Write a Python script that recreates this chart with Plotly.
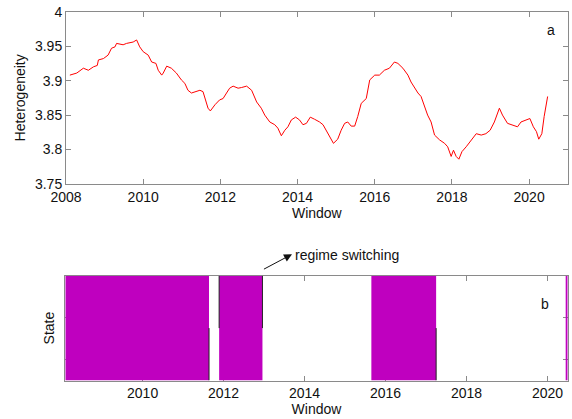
import plotly.graph_objects as go

# Heterogeneity series (decimal year, value)
years = [2008.10, 2008.28, 2008.45, 2008.58, 2008.71, 2008.81, 2008.84, 2008.97, 2009.09, 2009.18,
         2009.27, 2009.31, 2009.48, 2009.57, 2009.74, 2009.83, 2009.91, 2010.00, 2010.13, 2010.22,
         2010.33, 2010.39, 2010.48, 2010.52, 2010.61, 2010.73, 2010.86, 2010.99, 2011.08, 2011.16,
         2011.25, 2011.38, 2011.47, 2011.55, 2011.62, 2011.68, 2011.74, 2011.86, 2011.98, 2012.07,
         2012.16, 2012.24, 2012.33, 2012.46, 2012.55, 2012.68, 2012.81, 2012.94, 2013.06, 2013.15,
         2013.28, 2013.41, 2013.49, 2013.58, 2013.67, 2013.75, 2013.84, 2013.95, 2014.05, 2014.14,
         2014.23, 2014.33, 2014.44, 2014.57, 2014.66, 2014.79, 2014.87, 2014.93, 2015.04, 2015.13,
         2015.22, 2015.30, 2015.39, 2015.48, 2015.56, 2015.65, 2015.78, 2015.87, 2016.00, 2016.12,
         2016.25, 2016.38, 2016.51, 2016.60, 2016.73, 2016.86, 2016.94, 2017.03, 2017.12, 2017.20,
         2017.29, 2017.37, 2017.46, 2017.55, 2017.68, 2017.81, 2017.89, 2017.98, 2018.04, 2018.11,
         2018.18, 2018.26, 2018.37, 2018.50, 2018.63, 2018.76, 2018.88, 2018.99, 2019.10, 2019.23,
         2019.31, 2019.44, 2019.57, 2019.70, 2019.79, 2019.92, 2020.02, 2020.11, 2020.19, 2020.25,
         2020.33, 2020.39, 2020.48]
heterogeneity = [3.908, 3.911, 3.918, 3.915, 3.920, 3.922, 3.930, 3.932, 3.937, 3.947,
                 3.949, 3.954, 3.952, 3.954, 3.956, 3.959, 3.949, 3.942, 3.937, 3.927,
                 3.925, 3.915, 3.908, 3.911, 3.921, 3.918, 3.911, 3.901, 3.896, 3.886,
                 3.882, 3.884, 3.886, 3.884, 3.869, 3.860, 3.856, 3.865, 3.872, 3.874,
                 3.882, 3.889, 3.892, 3.889, 3.890, 3.892, 3.886, 3.869, 3.860, 3.850,
                 3.840, 3.836, 3.831, 3.820, 3.828, 3.833, 3.843, 3.847, 3.843, 3.836,
                 3.838, 3.847, 3.844, 3.840, 3.836, 3.824, 3.816, 3.809, 3.815, 3.828,
                 3.838, 3.840, 3.834, 3.834, 3.848, 3.867, 3.874, 3.901, 3.908, 3.908,
                 3.915, 3.918, 3.927, 3.925, 3.918, 3.908, 3.898, 3.889, 3.882, 3.877,
                 3.862, 3.850, 3.840, 3.821, 3.814, 3.809, 3.804, 3.790, 3.799, 3.790,
                 3.786, 3.797, 3.804, 3.814, 3.823, 3.821, 3.823, 3.828, 3.840, 3.860,
                 3.850, 3.838, 3.836, 3.833, 3.840, 3.843, 3.845, 3.833, 3.826, 3.815,
                 3.823, 3.848, 3.877]

# Regime state: segment start times, state in each segment, end of record
regime_start = [2008.09, 2011.64, 2011.89, 2012.96, 2015.65, 2017.25, 2020.45]
regime_state = [1, 0, 1, 0, 1, 0, 1]
regime_end = 2020.50

# Outline ticks at regime switches (time, lower, upper)
switch_time = [2011.64, 2011.89, 2012.96, 2017.25]
switch_lo = [0.0, 0.5, 0.5, 0.0]
switch_hi = [0.5, 1.0, 1.0, 0.5]

FRAME = "#8a8a8a"
FONT = "Liberation Sans, Arial, sans-serif"
MAGENTA = "#BF00BF"

W, H = 572, 419
top_dom_x = [66 / W, 567.7 / W]
top_dom_y = [1 - 184 / H, 1 - 11.7 / H]
bot_dom_x = [65.3 / W, 567.7 / W]
bot_dom_y = [1 - 380.5 / H, 1 - 275.7 / H]

fig = go.Figure()

fig.add_trace(go.Scatter(x=years, y=heterogeneity, mode="lines",
                         line=dict(color="#FF0000", width=1),
                         xaxis="x", yaxis="y", showlegend=False))

# Step area for the regime state
step_x = regime_start + [regime_end]
step_y = regime_state + [regime_state[-1]]
fig.add_trace(go.Scatter(x=step_x, y=step_y, mode="lines", line_shape="hv",
                         line=dict(width=0, color=MAGENTA), fill="tozeroy",
                         fillcolor=MAGENTA, xaxis="x2", yaxis="y2", showlegend=False))

seg_x, seg_y = [], []
for t, lo, hi in zip(switch_time, switch_lo, switch_hi):
    seg_x += [t, t, None]
    seg_y += [lo, hi, None]
fig.add_trace(go.Scatter(x=seg_x, y=seg_y, mode="lines",
                         line=dict(color="#222222", width=1),
                         xaxis="x2", yaxis="y2", showlegend=False))

axis_common = dict(showline=True, linecolor=FRAME, linewidth=1, mirror="ticks",
                   ticks="inside", ticklen=5, tickcolor=FRAME, showgrid=False,
                   zeroline=False, automargin=False,
                   tickfont=dict(size=14, color="#111111", family=FONT))

fig.update_layout(
    width=W, height=H, margin=dict(l=0, r=0, t=0, b=0),
    paper_bgcolor="white", plot_bgcolor="white",
    font=dict(family=FONT, size=14, color="#111111"),
    xaxis=dict(domain=top_dom_x, anchor="y", range=[2008, 2021], tick0=2008, dtick=2,
               title=dict(text="Window", standoff=2, font=dict(size=14)), **axis_common),
    yaxis=dict(domain=top_dom_y, anchor="x", range=[3.75, 4], tick0=3.75, dtick=0.05,
               title=dict(text="Heterogeneity", standoff=6, font=dict(size=14)), **axis_common),
    xaxis2=dict(domain=bot_dom_x, anchor="y2", range=[2008.09, 2020.5], tick0=2010, dtick=2,
                title=dict(text="Window", standoff=2, font=dict(size=14)),
                layer="below traces", **axis_common),
    yaxis2=dict(domain=bot_dom_y, anchor="x2", range=[0, 1], tickvals=[0.2, 0.6],
                showticklabels=False,
                title=dict(text="State", standoff=6, font=dict(size=14)),
                layer="below traces", **axis_common),
)

fig.add_annotation(x=0.978, y=0.952, xref="x domain", yref="y domain", text="a",
                   showarrow=False, font=dict(size=14))
fig.add_annotation(x=0.966, y=0.825, xref="x2 domain", yref="y2 domain", text="b",
                   showarrow=False, font=dict(size=14))

# Arrow pointing from the 2013 switch to the label
fig.add_annotation(x=2013.69, y=1.205, xref="x2", yref="y2 domain",
                   ax=regime_start[3], ay=1.055, axref="x2", ayref="y2 domain",
                   text="", showarrow=True, arrowhead=2, arrowsize=1.6, arrowwidth=1,
                   arrowcolor="#111111")
fig.add_annotation(x=2013.72, y=1.20, xref="x2", yref="y2 domain", text="regime switching",
                   xanchor="left", yanchor="middle", showarrow=False, font=dict(size=14))

fig.write_html("out.html")
